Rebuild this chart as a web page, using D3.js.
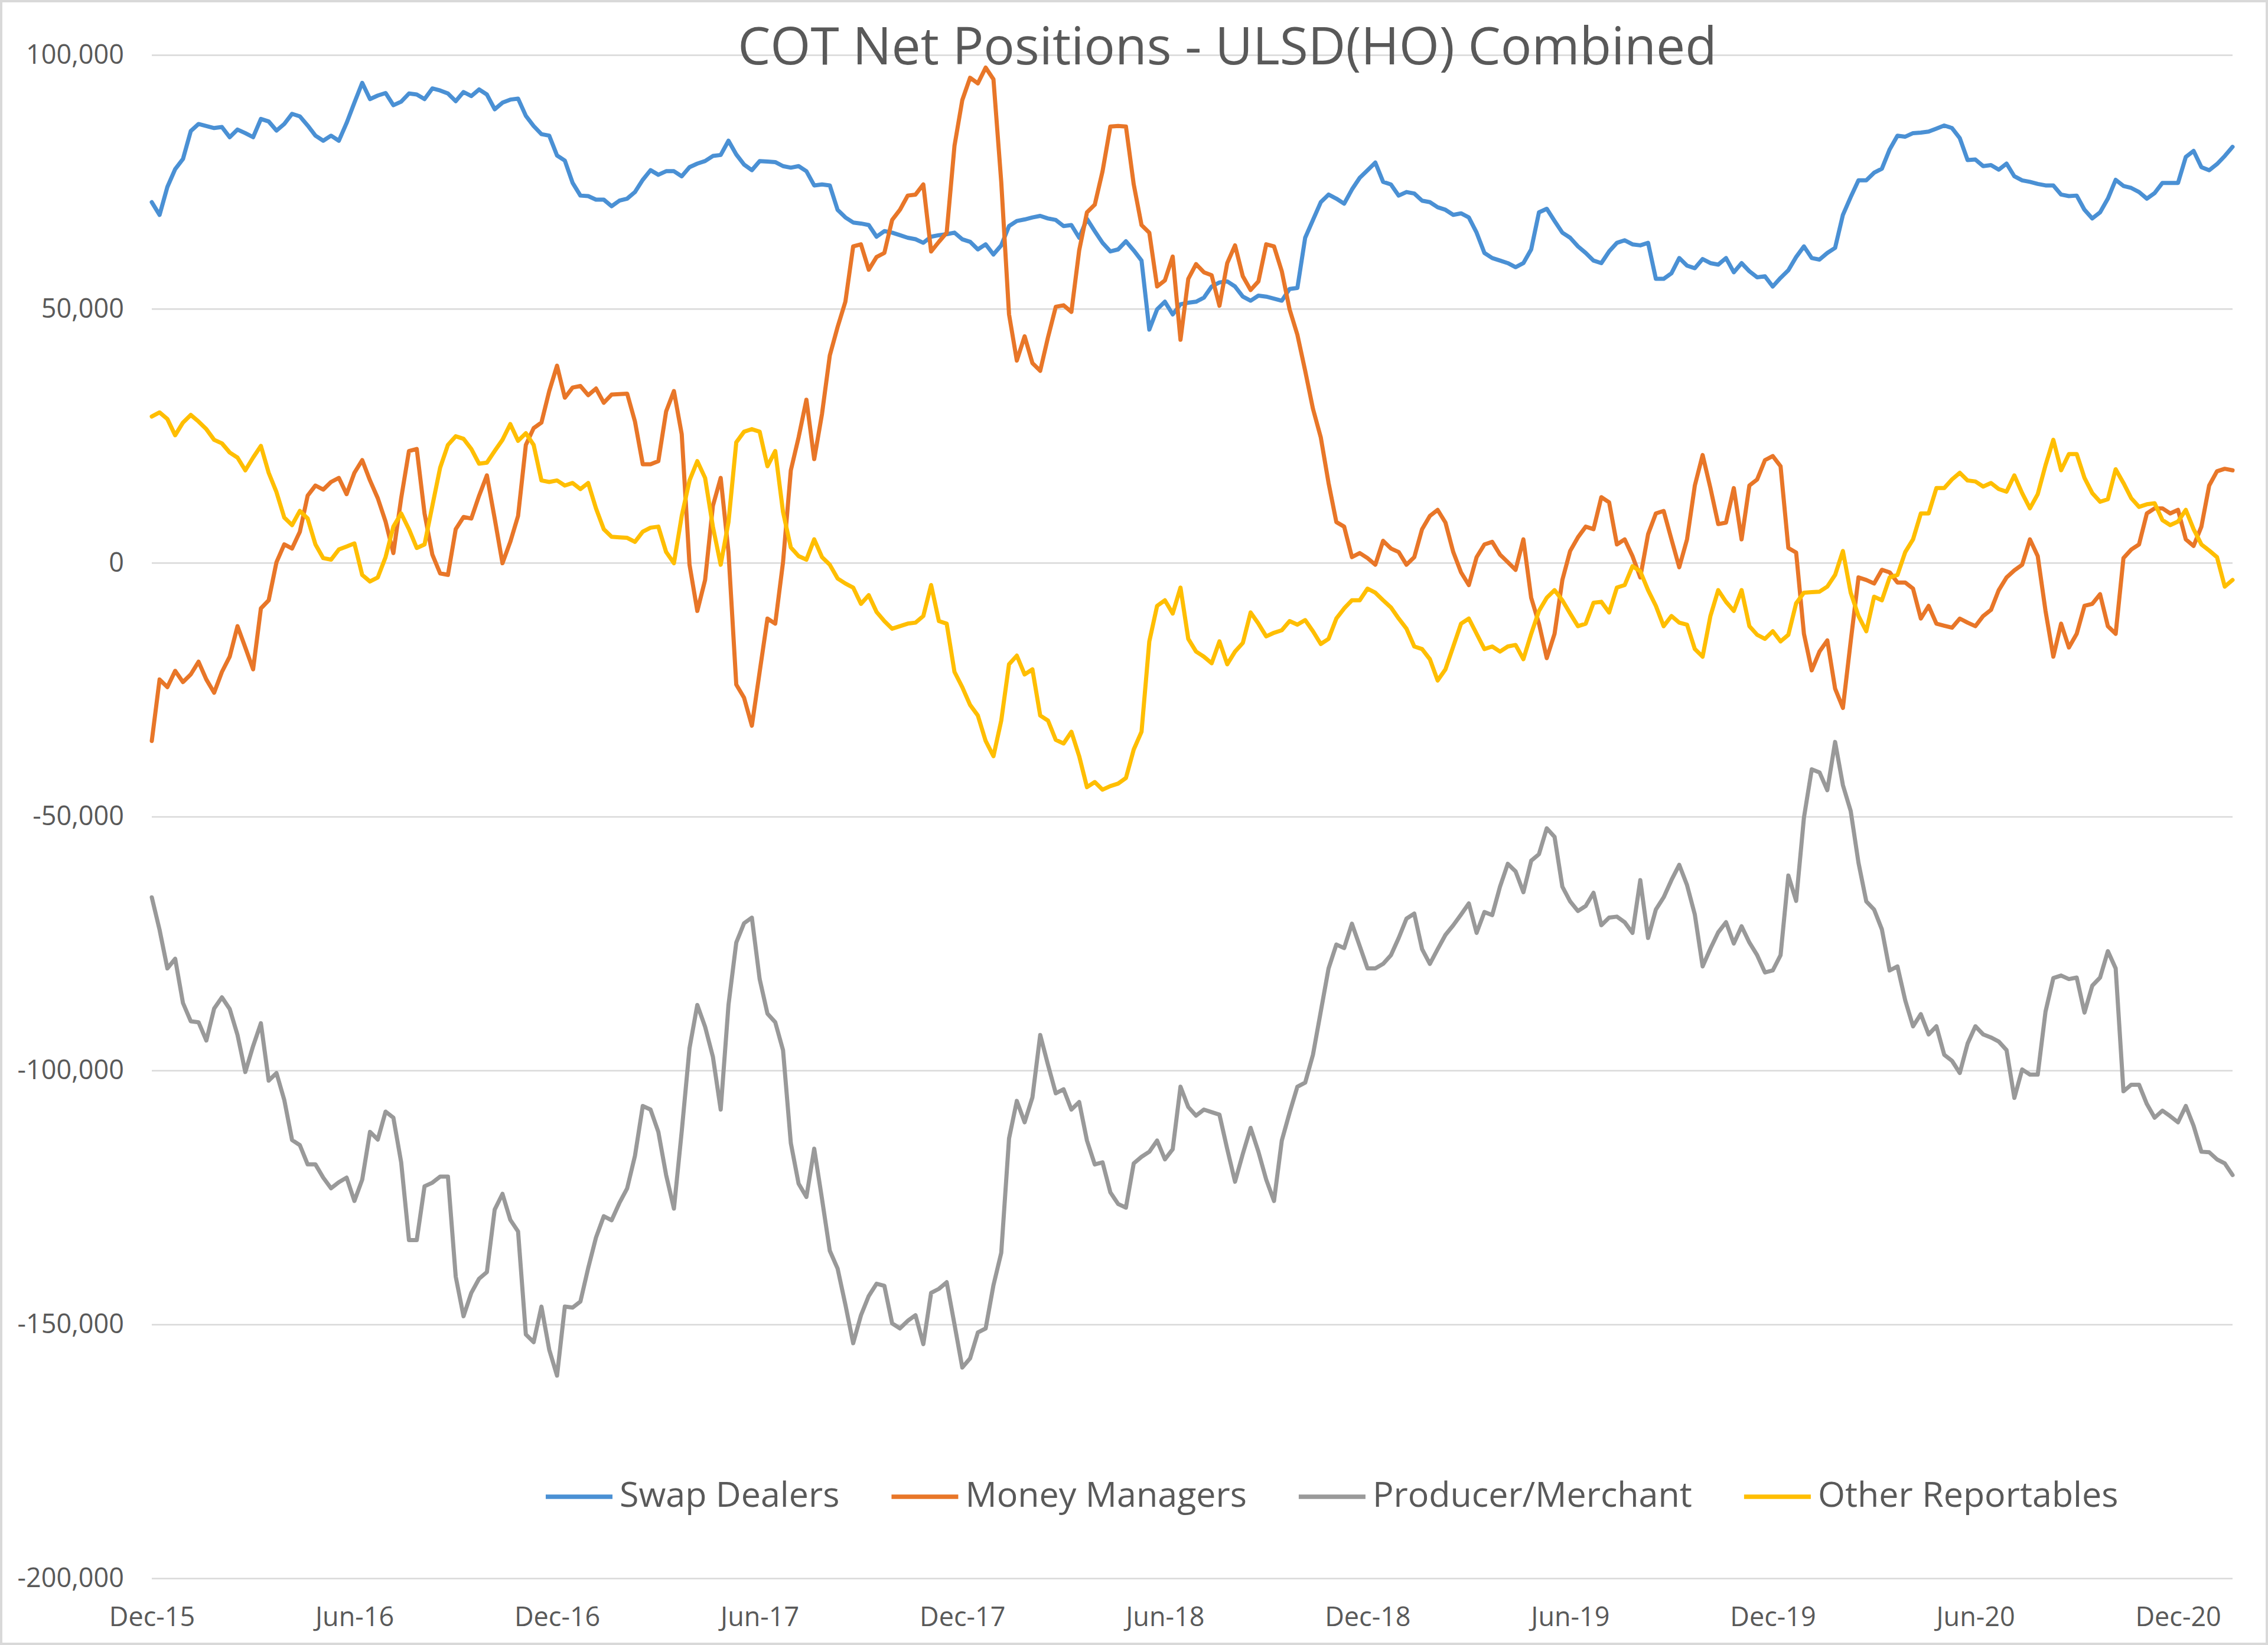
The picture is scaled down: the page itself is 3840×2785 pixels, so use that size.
<!DOCTYPE html>
<html><head><meta charset="utf-8">
<script src="https://cdn.jsdelivr.net/npm/d3@7"></script>
<style>
html,body{margin:0;padding:0;background:#fff;}
svg{display:block;}
text{font-family:"Open Sans",sans-serif;}
</style></head><body>
<svg id="chart" width="3840" height="2785"></svg>
<script>
const chartTitle = "COT Net Positions - ULSD(HO) Combined";
const seriesNames = ["Swap Dealers","Money Managers","Producer/Merchant","Other Reportables"];
const seriesColors = ["#4A90D4","#E87628","#999999","#FFBE00"];
const firstWeek = "2015-12-08";           // weekly COT reports
const tickLabels = ["Dec-15","Jun-16","Dec-16","Jun-17","Dec-17","Jun-18","Dec-18","Jun-19","Dec-19","Jun-20","Dec-20"];
const yTicks = [100, 50, 0, -50, -100, -150, -200]; // thousands of contracts

// net positions, thousands of contracts
const swapDealers = [
71.0,68.5,74,77.5,79.5,85,86.4,86,85.6,85.8,
83.8,85.3,84.6,83.8,87.4,86.9,85.1,86.4,88.4,87.9,
86.1,84.1,83.1,84.1,83.1,86.6,90.6,94.5,91.3,92,
92.5,90.1,90.8,92.4,92.2,91.3,93.4,93,92.4,90.9,
92.7,91.9,93.2,92.2,89.3,90.6,91.2,91.4,88,86,
84.4,84.1,80.2,79.2,74.8,72.3,72.2,71.5,71.5,70.2,
71.3,71.7,73,75.4,77.3,76.4,77.1,77.1,76.1,77.9,
78.6,79.1,80.1,80.3,83.1,80.4,78.4,77.3,79.1,79,
78.9,78.1,77.8,78.1,77.1,74.3,74.5,74.3,69.5,68,
67,66.8,66.5,64.2,65.3,65,64.5,64,63.7,63,
64.2,64.5,64.7,65,63.7,63.2,61.7,62.7,60.7,62.5,
66.3,67.3,67.6,68,68.3,67.8,67.5,66.3,66.5,64,
67.7,65.3,63,61.3,61.7,63.3,61.5,59.5,45.9,49.9,
51.4,48.9,50.9,51.2,51.4,52.2,54.4,55.2,55.4,54.4,
52.4,51.6,52.6,52.4,52,51.6,53.9,54.1,64,67.5,
71,72.5,71.7,70.7,73.5,75.8,77.3,78.8,75,74.5,
72.3,73,72.7,71.3,71,70,69.5,68.5,68.8,68,
65,61,60,59.5,59,58.2,59,61.7,69,69.7,
67.3,65,64,62.3,61,59.5,59,61.3,63,63.5,
62.7,62.5,63,55.9,55.9,57,60,58.5,58,59.8,
59,58.7,60,57.2,59,57.4,56.2,56.4,54.4,56.1,
57.6,60.2,62.3,60,59.7,61,62,68.5,72,75.3,
75.3,76.8,77.6,81.4,84.1,83.9,84.6,84.7,84.9,85.5,
86.1,85.6,83.6,79.3,79.4,78.1,78.3,77.4,78.6,76.1,
75.3,75,74.6,74.3,74.3,72.5,72.2,72.3,69.5,67.8,
69,71.7,75.4,74.2,73.8,73,71.7,72.8,74.8,74.8,
74.8,79.9,81.1,77.9,77.3,78.5,80.1,81.9];

const moneyManagers = [
-35.1,-23,-24.5,-21.3,-23.5,-22,-19.5,-23,-25.6,-21.5,
-18.5,-12.5,-16.7,-21,-9,-7.4,0.1,3.6,2.8,6.1,
13.2,15.2,14.4,15.9,16.7,13.5,17.7,20.2,16.2,12.7,
8.1,1.9,12.7,22,22.4,9.7,1.6,-2.1,-2.4,6.6,
9,8.7,13.2,17.2,8.7,-0.1,4.1,9.2,23.2,26.5,
27.6,33.8,38.8,32.5,34.5,34.8,33,34.3,31.5,33.1,
33.2,33.3,27.8,19.4,19.4,20,29.8,33.8,25.3,-0.4,
-9.5,-3.4,11.2,16.7,2.1,-24,-26.6,-32.1,-21.5,-11,
-12,0.1,18.2,24.7,32.1,20.4,29.3,40.8,46.4,51.4,
62.3,62.7,57.7,60.2,61,67.5,69.5,72.3,72.5,74.5,
61.3,63.2,65,82.1,91.1,95.5,94.4,97.5,95.2,75,
48.9,39.8,44.6,39.3,37.8,44.4,50.4,50.7,49.4,61.5,
69,70.5,77.1,85.9,86,85.9,74.5,66.5,65,54.4,
55.6,60.3,43.9,55.9,58.8,57.2,56.6,50.6,59,62.5,
56.4,53.7,55.4,62.7,62.3,57.4,49.9,44.9,37.8,30.3,
24.7,15.7,8,7.1,1.1,1.9,0.9,-0.4,4.3,2.8,
2.1,-0.4,1.1,6.6,9.2,10.4,7.9,2.1,-1.9,-4.4,
1.1,3.6,4.1,1.6,0.1,-1.4,4.6,-6.9,-12,-18.8,
-14,-3.4,2.3,5,7.1,6.6,12.9,11.9,3.6,4.6,
1.3,-2.9,5.6,9.7,10.2,4.6,-0.9,4.6,15.2,21.2,
14.7,7.6,7.9,14.7,4.6,15.2,16.4,20.2,21,19,
2.9,2,-14,-21.2,-17.5,-15.3,-24.8,-28.6,-15.5,-2.9,
-3.4,-4.1,-1.4,-1.9,-3.9,-3.9,-5.1,-11,-8.5,-12,
-12.4,-12.8,-11,-11.8,-12.5,-10.5,-9.3,-5.4,-2.9,-1.5,
-0.4,4.6,1.3,-9.5,-18.5,-12,-16.7,-14,-8.5,-8.1,
-6.2,-12.5,-14,0.9,2.6,3.6,9.7,10.7,10.7,9.7,
10.4,4.6,3.3,7.1,15.2,18,18.5,18.2];

const producerMerchant = [
-65.9,-72.3,-79.9,-78,-86.7,-90.3,-90.5,-94.1,-87.8,-85.6,
-87.9,-93,-100.3,-95.2,-90.7,-102,-100.5,-105.8,-113.7,-114.7,
-118.5,-118.5,-121.1,-123.2,-122,-121.1,-125.7,-121.5,-112.1,-113.6,
-108.1,-109.3,-118.1,-133.4,-133.4,-122.8,-122.1,-120.9,-120.9,-140.6,
-148.4,-143.8,-141,-139.7,-127.4,-124.3,-129.4,-131.7,-152,-153.5,
-146.5,-155,-160.1,-146.5,-146.7,-145.5,-138.9,-132.9,-128.7,-129.5,
-126.1,-123.2,-116.8,-107,-107.7,-112.1,-120.6,-127.2,-112,-95.6,
-87.1,-91.4,-97.3,-107.7,-87.1,-74.8,-71,-69.9,-82,-88.8,
-90.5,-96,-114.3,-122.3,-124.9,-115.4,-125.3,-135.5,-139,-146.1,
-153.7,-148.2,-144.4,-142,-142.4,-149.8,-150.8,-149.3,-148.2,-153.9,
-143.8,-143,-141.7,-150,-158.5,-156.7,-151.6,-150.8,-142.3,-135.9,
-113.4,-106,-110.2,-105.3,-93,-98.9,-104.5,-103.7,-107.7,-106.2,
-113.8,-118.5,-118.1,-124,-126.3,-127,-118.3,-117,-116,-113.8,
-117.5,-115.5,-103.2,-107.2,-108.9,-107.7,-108.2,-108.7,-115.5,-121.9,
-116.4,-111.3,-116,-121.5,-125.7,-113.8,-108.3,-103.2,-102.4,-96.9,
-88.4,-79.9,-75.2,-75.9,-71.1,-75.5,-79.9,-79.9,-79,-77.3,
-73.9,-70.1,-69.1,-76.1,-79,-76.1,-73.3,-71.4,-69.3,-67.1,
-72.9,-68.8,-69.4,-63.8,-59.3,-60.8,-64.9,-58.7,-57.4,-52.3,
-54,-63.8,-66.7,-68.6,-67.6,-65,-71.4,-69.9,-69.7,-70.8,
-72.9,-62.5,-73.9,-68.3,-65.9,-62.5,-59.5,-63.5,-69.3,-79.5,
-76,-72.8,-70.8,-75,-71.6,-74.8,-77.3,-80.7,-80.3,-77.3,
-61.6,-66.6,-50.2,-40.7,-41.3,-44.8,-35.3,-43.8,-48.9,-59.1,
-66.7,-68.3,-72.2,-80.3,-79.5,-86.2,-91.3,-88.9,-92.9,-91.3,
-96.9,-98.1,-100.5,-94.7,-91.3,-92.9,-93.5,-94.3,-96,-105.4,
-99.8,-100.8,-100.8,-88.4,-81.8,-81.3,-82,-81.7,-88.6,-83.3,
-81.7,-76.5,-79.9,-104.1,-102.8,-102.8,-106.6,-109.3,-107.9,-109,
-110.2,-107,-110.9,-116,-116.1,-117.5,-118.3,-120.6];

const otherReportables = [
28.8,29.6,28.3,25.1,27.6,29.1,27.8,26.3,24.2,23.5,
21.7,20.7,18.2,20.7,23,17.7,13.9,8.9,7.4,10.2,
8.7,3.6,0.9,0.6,2.6,3.2,3.8,-2.4,-3.7,-2.9,
1.1,7.1,9.7,6.6,2.9,3.6,11.2,18.7,23.2,24.9,
24.4,22.4,19.5,19.7,22,24.2,27.3,24,25.5,23.2,
16.2,15.9,16.2,15.2,15.7,14.5,15.7,10.7,6.6,5.1,
5,4.9,4.1,6.1,6.9,7.1,2.1,-0.1,9.2,16.2,
20,16.7,7.1,-0.4,8,23.7,25.8,26.3,25.8,19,
22,10,3,1.3,0.6,4.6,1.1,-0.4,-3.1,-4.1,
-4.9,-8.1,-6.4,-9.7,-11.5,-13,-12.5,-12,-11.8,-10.5,
-4.4,-11.5,-12,-21.5,-24.5,-28,-30.1,-35.1,-38.1,-31.1,
-20,-18.3,-22,-21,-30.1,-31.1,-34.9,-35.6,-33.3,-38.1,
-44.2,-43.2,-44.7,-44,-43.5,-42.4,-36.8,-33.3,-15.5,-8.5,
-7.4,-10,-4.9,-15,-17.5,-18.5,-19.8,-15.5,-20,-17.5,
-15.8,-9.8,-12,-14.5,-13.8,-13.3,-11.5,-12.2,-11.3,-13.5,
-16,-15,-11,-9,-7.4,-7.4,-5.1,-5.9,-7.4,-8.8,
-11,-13,-16.5,-17,-19,-23.2,-21,-16.5,-12,-11,
-14,-17,-16.5,-17.5,-16.5,-16.2,-19,-14,-9.5,-6.9,
-5.4,-7.4,-10,-12.5,-12,-7.9,-7.7,-9.8,-4.9,-4.4,
-0.7,-1.7,-5.4,-8.5,-12.5,-10.5,-11.8,-12.2,-17,-18.5,
-10.5,-5.4,-7.7,-9.5,-5.4,-12.5,-14.2,-15,-13.5,-15.5,
-14.2,-8,-5.9,-5.8,-5.7,-4.7,-2.4,2.3,-5.9,-10.5,
-13.5,-6.7,-7.4,-2.9,-2.4,2.1,4.6,9.7,9.7,14.7,
14.7,16.4,17.7,16.2,16,15,15.7,14.5,14,17.2,
13.7,10.7,13.5,19.2,24.2,18.2,21.4,21.4,16.7,13.7,
12,12.5,18.4,15.7,12.7,11,11.5,11.7,8.4,7.4,
8.1,10.4,6.6,3.6,2.4,1.1,-4.7,-3.4];

const seriesValues = [swapDealers, moneyManagers, producerMerchant, otherReportables];

const W = 3840, H = 2785;
const plot = {x0: 257, x1: 3780, y0: 93, y1: 2672};
const svg = d3.select("#chart");

svg.append("rect").attr("x",0).attr("y",0).attr("width",W).attr("height",H).attr("fill","#fff");
svg.append("rect").attr("x",2).attr("y",2).attr("width",W-4).attr("height",H-4)
  .attr("fill","none").attr("stroke","#D9D9D9").attr("stroke-width",4);

const parse = d3.utcParse("%Y-%m-%d");
const start = parse(firstWeek);
const weeks = swapDealers.map((_, i) => d3.utcDay.offset(start, 7 * i));

const x = d3.scaleUtc().domain([weeks[0], weeks[weeks.length - 1]]).range([plot.x0, plot.x1]);
const y = d3.scaleLinear().domain([-200, 100]).range([plot.y1, plot.y0]);

// y axis + gridlines
const fmt = d3.format(",");
const yAxis = d3.axisLeft(y).tickValues(yTicks)
  .tickSize(-(plot.x1 - plot.x0)).tickPadding(47)
  .tickFormat(v => fmt(v * 1000).replace("\u2212", "-"));
const gy = svg.append("g").attr("transform", `translate(${plot.x0},0)`).call(yAxis);
gy.select(".domain").remove();
gy.selectAll(".tick line").attr("stroke", "#D9D9D9").attr("stroke-width", 2.5);
gy.selectAll(".tick text").attr("fill", "#595959").attr("font-size", 45)
  .attr("font-family", '"Open Sans", sans-serif');

// x axis labels
const tickDates = weeks.filter((_, i) => i % 26 === 0);
const xAxis = d3.axisBottom(x).tickValues(tickDates).tickSize(0).tickPadding(49)
  .tickFormat((d, i) => tickLabels[i]);
const gx = svg.append("g").attr("transform", `translate(0,${plot.y1})`).call(xAxis);
gx.select(".domain").remove();
gx.selectAll(".tick text").attr("fill", "#595959").attr("font-size", 45)
  .attr("font-family", '"Open Sans", sans-serif');

// lines
const line = d3.line().x((d, i) => x(weeks[i])).y(d => y(d));
seriesValues.forEach((vals, k) => {
  svg.append("path").datum(vals)
    .attr("d", line)
    .attr("fill", "none")
    .attr("stroke", seriesColors[k])
    .attr("stroke-width", 7)
    .attr("stroke-linejoin", "round")
    .attr("stroke-linecap", "round");
});

// title, fitted to measured width
const title = svg.append("text").text(chartTitle)
  .attr("x", 2078).attr("y", 109).attr("text-anchor", "middle")
  .attr("fill", "#595959").attr("font-size", 100);
const tw = title.node().getComputedTextLength();
title.attr("font-size", 100 * 1658 / tw);

// legend
const legendG = svg.append("g");
const lt = seriesNames.map(n => legendG.append("text").text(n).attr("font-size", 60).attr("fill", "#595959"));
const totalW = lt.reduce((s, t) => s + t.node().getComputedTextLength(), 0);
const lfs = 60 * 1899 / totalW;
lt.forEach(t => t.attr("font-size", lfs));
let lx = 924;
seriesNames.forEach((n, k) => {
  legendG.append("line").attr("x1", lx).attr("x2", lx + 113)
    .attr("y1", 2534).attr("y2", 2534)
    .attr("stroke", seriesColors[k]).attr("stroke-width", 7.5);
  lt[k].attr("x", lx + 125).attr("y", 2551);
  lx = lx + 125 + lt[k].node().getComputedTextLength() + 88;
});
</script>
</body></html>
